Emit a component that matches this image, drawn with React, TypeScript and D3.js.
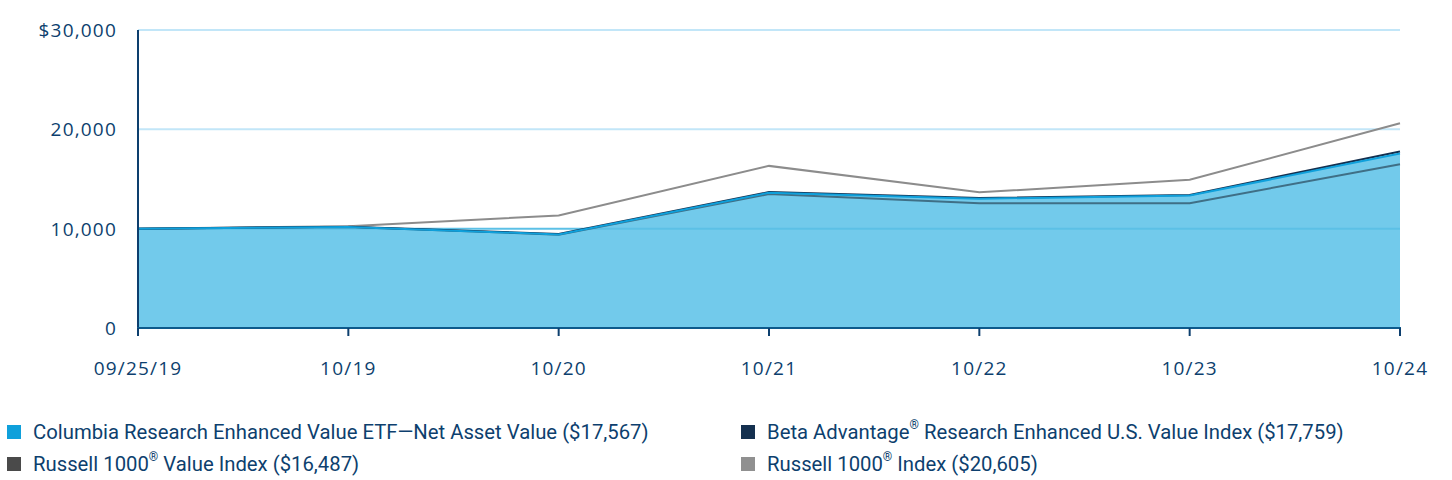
import React from "react";
import * as d3 from "d3";

const dates = ["09/25/19", "10/19", "10/20", "10/21", "10/22", "10/23", "10/24"];
const fundValues = [10000, 10180, 9420, 13620, 13020, 13330, 17567];
const betaValues = [10000, 10200, 9460, 13680, 13080, 13400, 17759];
const r1000ValueValues = [10000, 10170, 9400, 13480, 12560, 12560, 16487];
const r1000Values = [10000, 10250, 11330, 16320, 13660, 14920, 20605];
const yTicks = [0, 10000, 20000, 30000];

const W = 1452, H = 480;
const left = 138, right = 1400, top = 30, bottom = 328;
const textColor = "#0d3f6e";
const axisFont = "'Open Sans', sans-serif";
const legendFont = "Roboto, 'Liberation Sans', sans-serif";

export default function App() {
  const x = d3.scalePoint<string>().domain(dates).range([left, right]);
  const y = d3.scaleLinear().domain([0, 30000]).range([bottom, top]);
  const line = (vals: number[]) =>
    d3.line<number>().x((_, i) => x(dates[i])!).y(v => y(v))(vals) || "";
  const area = d3.area<number>().x((_, i) => x(dates[i])!).y0(y(0)).y1(v => y(v))(fundValues) || "";
  const fmt = (v: number) => (v === 30000 ? "$" : "") + d3.format(",")(v);

  const legend = [
    { color: "#0fa0db", label: "Columbia Research Enhanced Value ETF—Net Asset Value ($17,567)", x: 7, y: 432 },
    { color: "#14304f", label: "Beta Advantage", sup: true, rest: " Research Enhanced U.S. Value Index ($17,759)", x: 741, y: 432 },
    { color: "#4a4a4a", label: "Russell 1000", sup: true, rest: " Value Index ($16,487)", x: 7, y: 464 },
    { color: "#909090", label: "Russell 1000", sup: true, rest: " Index ($20,605)", x: 741, y: 464 },
  ];

  return (
    <svg width={W} height={H} style={{ position: "absolute", left: 0, top: 0 }}>
      <path d={area} fill="#72caeb" />
      {yTicks.filter(t => t > 0).map(t => (
        <line key={t} x1={left} x2={right} y1={y(t)} y2={y(t)} stroke={t === 10000 ? "#5cc0e6" : "#c2e6f8"} strokeWidth={2} />
      ))}
      <path d={line(r1000Values)} fill="none" stroke="#8c8c8c" strokeWidth={2} />
      <path d={line(r1000ValueValues)} fill="none" stroke="#3f6f86" strokeWidth={2} />
      <path d={line(betaValues)} fill="none" stroke="#14304f" strokeWidth={2} />
      <path d={line(fundValues)} fill="none" stroke="#0fa0db" strokeWidth={2} />
      <line x1={left} x2={left} y1={top} y2={bottom} stroke={textColor} strokeWidth={2} />
      <line x1={left - 1} x2={right + 1} y1={bottom} y2={bottom} stroke="#0d5a8c" strokeWidth={2} />
      {dates.map(d => (
        <g key={d}>
          <line x1={x(d)} x2={x(d)} y1={bottom} y2={bottom + 8} stroke={textColor} strokeWidth={2} />
          <text x={x(d)} y={370} textAnchor="middle" dominantBaseline="middle" fontSize={19} letterSpacing={1.2} fontFamily={axisFont} fill={textColor}>{d}</text>
        </g>
      ))}
      {yTicks.map(t => (
        <text key={t} x={117} y={y(t) + 2} textAnchor="end" dominantBaseline="middle" fontSize={19} letterSpacing={1.2} fontFamily={axisFont} fill={textColor}>{fmt(t)}</text>
      ))}
      {legend.map((l, i) => (
        <g key={i}>
          <rect x={l.x} y={l.y - 7} width={14} height={14} fill={l.color} />
          <text x={l.x + 26} y={l.y + 2} dominantBaseline="middle" fontSize={20.3} fontFamily={legendFont} fill={textColor}>
            {l.label}
            {l.sup && <tspan fontSize={12} dy={-8}>®</tspan>}
            {l.sup && <tspan dy={8}>{l.rest}</tspan>}
          </text>
        </g>
      ))}
    </svg>
  );
}
